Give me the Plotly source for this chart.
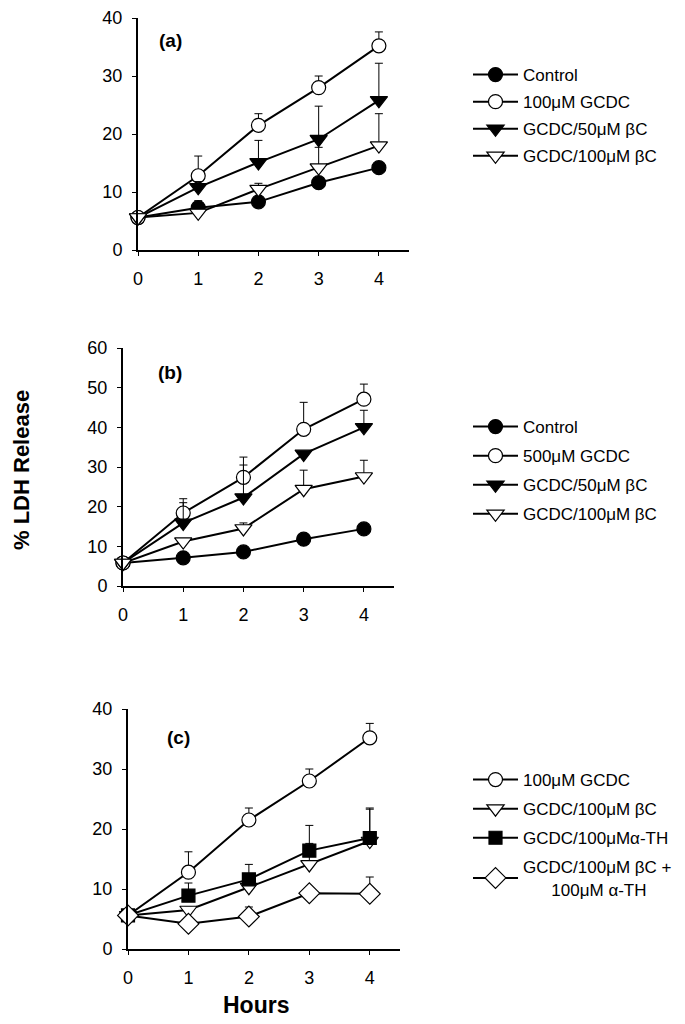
import plotly.graph_objects as go

hours = [0, 1, 2, 3, 4]

# Panel (a)
a_control = [5.6, 7.3, 8.3, 11.6, 14.2]
a_control_err = [0, 1.2, 0, 0, 0]
a_gcdc100 = [5.6, 12.8, 21.5, 28.0, 35.2]
a_gcdc100_err = [0, 3.4, 2.0, 2.0, 2.4]
a_bc50 = [5.6, 10.8, 15.1, 19.1, 25.8]
a_bc50_err = [0, 1.0, 3.8, 5.7, 6.4]
a_bc100 = [5.6, 6.4, 10.5, 14.2, 18.0]
a_bc100_err = [0, 0.5, 1.0, 3.5, 5.5]

# Panel (b)
b_control = [5.8, 7.1, 8.6, 11.8, 14.4]
b_control_err = [0, 0, 0, 0, 0]
b_gcdc500 = [5.8, 18.4, 27.4, 39.5, 47.1]
b_gcdc500_err = [0, 3.6, 5.1, 6.8, 3.8]
b_bc50 = [5.8, 15.9, 22.3, 33.3, 40.0]
b_bc50_err = [0, 5.1, 8.2, 0, 4.3]
b_bc100 = [5.8, 11.2, 14.5, 24.4, 27.6]
b_bc100_err = [0, 0, 1.4, 4.8, 4.1]

# Panel (c)
c_gcdc100 = [5.6, 12.8, 21.5, 28.0, 35.2]
c_gcdc100_err = [0, 3.4, 2.0, 2.0, 2.4]
c_bc100 = [5.6, 6.5, 10.3, 14.1, 18.0]
c_bc100_err = [0, 0.5, 1.0, 3.5, 5.5]
c_ath = [5.6, 8.9, 11.6, 16.4, 18.5]
c_ath_err = [0, 2.1, 2.5, 4.2, 4.8]
c_combo = [5.6, 4.2, 5.4, 9.3, 9.2]
c_combo_err = [0, 0, 1.6, 0, 2.8]

a_names = ["Control", "100μM GCDC", "GCDC/50μM βC", "GCDC/100μM βC"]
b_names = ["Control", "500μM GCDC", "GCDC/50μM βC", "GCDC/100μM βC"]
c_names = ["100μM GCDC", "GCDC/100μM βC", "GCDC/100μMα-TH",
           "GCDC/100μM βC +<br>      100μM α-TH"]

FONT = "Liberation Sans, Arial, sans-serif"
W, H = 685, 1024
OFF = 8  # page body margin in the browser

fig = go.Figure()


def add(x, y, err, name, symbol, fill, size, xa, ya, legend, group):
    fig.add_trace(go.Scatter(
        x=x, y=y, name=name, mode="lines+markers",
        xaxis=xa, yaxis=ya, legend=legend, legendgroup=group,
        cliponaxis=False,
        line=dict(color="black", width=2),
        marker=dict(symbol=symbol, size=size, color=fill,
                    line=dict(color="black", width=1.2)),
        error_y=dict(type="data", array=err, arrayminus=[0] * len(err),
                     symmetric=False, color="black", thickness=1, width=4),
    ))


# panel a
add(hours, a_control, a_control_err, a_names[0], "circle", "black", 14, "x", "y", "legend", "a1")
add(hours, a_gcdc100, a_gcdc100_err, a_names[1], "circle", "white", 14, "x", "y", "legend", "a2")
add(hours, a_bc50, a_bc50_err, a_names[2], "triangle-down", "black", 15, "x", "y", "legend", "a3")
add(hours, a_bc100, a_bc100_err, a_names[3], "triangle-down", "white", 15, "x", "y", "legend", "a4")
# panel b
add(hours, b_control, b_control_err, b_names[0], "circle", "black", 14, "x2", "y2", "legend2", "b1")
add(hours, b_gcdc500, b_gcdc500_err, b_names[1], "circle", "white", 14, "x2", "y2", "legend2", "b2")
add(hours, b_bc50, b_bc50_err, b_names[2], "triangle-down", "black", 15, "x2", "y2", "legend2", "b3")
add(hours, b_bc100, b_bc100_err, b_names[3], "triangle-down", "white", 15, "x2", "y2", "legend2", "b4")
# panel c
add(hours, c_gcdc100, c_gcdc100_err, c_names[0], "circle", "white", 14, "x3", "y3", "legend3", "c1")
add(hours, c_bc100, c_bc100_err, c_names[1], "triangle-down", "white", 15, "x3", "y3", "legend3", "c2")
add(hours, c_ath, c_ath_err, c_names[2], "square", "black", 13, "x3", "y3", "legend3", "c3")
add(hours, c_combo, c_combo_err, c_names[3], "diamond", "white", 16, "x3", "y3", "legend3", "c4")


def fx(px):
    return (px - OFF) / W


def fy(py):
    return 1 - (py - OFF) / H


def px_x(a, b):
    return [fx(a), fx(b)]


def px_y(top, bottom):
    return [fy(bottom), fy(top)]


axis_common = dict(showgrid=False, zeroline=False, showline=True, linecolor="black",
                   linewidth=2, ticks="outside", ticklen=4, tickwidth=1, tickcolor="black",
                   automargin=False, ticklabeloverflow="allow",
                   tickfont=dict(family=FONT, size=18, color="black"))

xcommon = dict(axis_common, range=[0, 4.5], tickvals=hours, ticklabelstandoff=7)
ycommon = dict(axis_common, ticklabelstandoff=6)

legend_common = dict(font=dict(family=FONT, size=17, color="black"),
                     bgcolor="rgba(0,0,0,0)", tracegroupgap=4, itemwidth=45,
                     xanchor="left", yanchor="top", itemclick=False)


def label(text, x, y, size, angle=0):
    return dict(text=text, x=fx(x), y=fy(y), xref="paper", yref="paper",
                xanchor="center", yanchor="middle", textangle=angle,
                showarrow=False, font=dict(family=FONT, size=size, color="black"))


fig.update_layout(
    width=W, height=H, margin=dict(l=0, r=0, t=0, b=0, autoexpand=False),
    paper_bgcolor="white", plot_bgcolor="white",
    showlegend=True,
    xaxis=dict(xcommon, domain=px_x(138, 409), anchor="y"),
    yaxis=dict(ycommon, domain=px_y(18, 250), range=[0, 40], tickvals=[0, 10, 20, 30, 40], anchor="x"),
    xaxis2=dict(xcommon, domain=px_x(123, 394), anchor="y2"),
    yaxis2=dict(ycommon, domain=px_y(348, 586), range=[0, 60], tickvals=[0, 10, 20, 30, 40, 50, 60], anchor="x2"),
    xaxis3=dict(xcommon, domain=px_x(128, 400), anchor="y3"),
    yaxis3=dict(ycommon, domain=px_y(709, 949), range=[0, 40], tickvals=[0, 10, 20, 30, 40], anchor="x3"),
    legend=dict(legend_common, x=fx(468), y=fy(57), tracegroupgap=2),
    legend2=dict(legend_common, x=fx(468), y=fy(409)),
    legend3=dict(legend_common, x=fx(468), y=fy(762)),
    annotations=[
        label("<b>(a)</b>", 170, 40, 19),
        label("<b>(b)</b>", 170, 372, 19),
        label("<b>(c)</b>", 178, 737, 19),
        label("<b>% LDH Release</b>", 21, 470, 22, -90),
        label("<b>Hours</b>", 256, 1005, 23),
    ],
)

fig.write_html("out.html")
